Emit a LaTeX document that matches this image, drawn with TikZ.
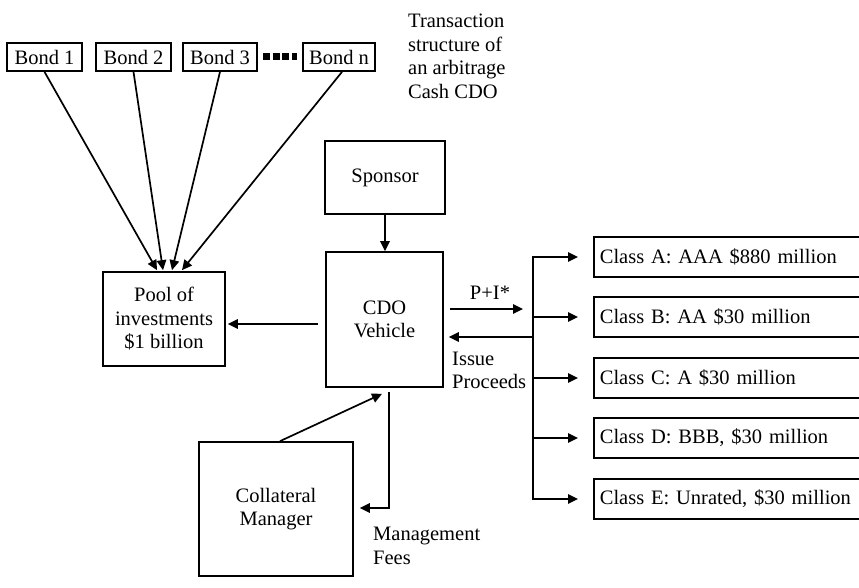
\documentclass[tikz,border=0pt]{standalone}
\usepackage{fontspec}
\setmainfont{Liberation Serif}
\usetikzlibrary{arrows.meta,calc}
\begin{document}
\begin{tikzpicture}[x=1pt,y=-1pt,
  every node/.style={font=\fontsize{20.5}{23.5}\selectfont},
  box/.style={draw, line width=1.7pt, inner sep=0pt, align=center},
  bondbox/.style={box, minimum height=28pt},
  clsbox/.style={draw, line width=1.7pt, anchor=west, inner xsep=6pt, inner ysep=0pt,
                 minimum height=40pt, text width=268pt, align=left},
  lbl/.style={inner sep=0pt, align=left, anchor=west},
  link/.style={line width=1.7pt, -{Triangle[length=10pt,width=9.5pt]}},
  squaredots/.style={line width=7pt, dash pattern=on 7pt off 2.67pt},
]
\clip (0,0) rectangle (859,588);

% bonds feeding the collateral pool
\node[bondbox, minimum width=75pt] (b1) at (44.5,57) {Bond 1};
\node[bondbox, minimum width=75pt] (b2) at (133.5,57) {Bond 2};
\node[bondbox, minimum width=74pt] (b3) at (220,57) {Bond 3};
\node[bondbox, minimum width=72pt] (bn) at (339,57) {Bond n};
\draw[squaredots, shorten <=5pt, shorten >=5pt] (b3.east) -- (bn.west);

\node[lbl] (title) at (408,56.5) {Transaction\\structure of\\an arbitrage\\Cash CDO};

% main boxes
\node[box, minimum width=120pt, minimum height=73pt] (sponsor) at (385,177.5) {Sponsor};
\node[box, minimum width=117pt, minimum height=135pt] (cdo) at (384.5,319.5) {CDO\\Vehicle};
\node[box, minimum width=122pt, minimum height=94pt] (pool) at (164,319) {Pool of\\investments\\\$1 billion};
\node[box, minimum width=154pt, minimum height=134pt] (coll) at (276,509) {Collateral\\Manager};

% note classes
\node[clsbox] (ca) at (593,257) {Class A: AAA \$880 million};
\node[clsbox] (cb) at (593,317) {Class B: AA \$30 million};
\node[clsbox] (cc) at (593,378) {Class C: A \$30 million};
\node[clsbox] (cd) at (593,438) {Class D: BBB, \$30 million};
\node[clsbox] (ce) at (593,499) {Class E: Unrated, \$30 million};
\coordinate (bus) at (533,0);

% bonds into the pool
\draw[link] (b1.south) -- ($(pool.north)+(-7,-1)$);
\draw[link] (b2.south) -- ($(pool.north)+(-1,-1)$);
\draw[link] (b3.south) -- ($(pool.north)+(8,-1)$);
\draw[link] ([xshift=3pt]bn.south) -- ($(pool.north)+(18,-1)$);

% sponsor, vehicle and pool
\draw[link] (sponsor.south) -- (sponsor.south |- cdo.north);
\draw[link] ($(cdo.west)+(-7,4.5)$) -- ($(pool.east)+(2,5)$);

% collateral manager
\draw[link] ($(coll.north)+(4,0)$) -- ($(cdo.south)+(-2.5,6)$);
\draw[link] ($(cdo.south)+(4.5,4)$) |- ($(coll.east)+(6,-1)$);
\node[lbl] (mf) at (373,546) {Management\\Fees};

% payments and proceeds
\draw[link] ($(cdo.east)+(6,-10.5)$) -- ($(bus |- cdo.east)+(-10,-10.5)$);
\node[inner sep=0pt] (pil) at (490,293) {P+I*};
\draw[link] ($(bus |- cdo.east)+(0,17.5)$) -- ($(cdo.east)+(5,17.5)$);
\node[lbl] (ip) at (452,370.5) {Issue\\Proceeds};

% distribution bus to the classes
\draw[link] (bus |- cc.west) -- (bus |- ca.west) -- ([xshift=-15pt]ca.west);
\draw[link] (bus |- cc.west) -- (bus |- ce.west) -- ([xshift=-15pt]ce.west);
\draw[link] (bus |- cb.west) -- ([xshift=-15pt]cb.west);
\draw[link] (bus |- cc.west) -- ([xshift=-15pt]cc.west);
\draw[link] (bus |- cd.west) -- ([xshift=-15pt]cd.west);
\end{tikzpicture}
\end{document}
